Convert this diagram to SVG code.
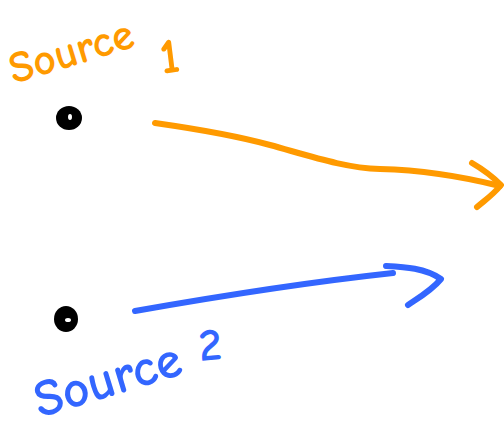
<svg xmlns="http://www.w3.org/2000/svg" width="504" height="429" viewBox="0 0 504 429">
<style>
.stroke{fill:none;stroke-width:6;stroke-linecap:round;stroke-linejoin:round}
.orange{stroke:#FF9A00}
.blue{stroke:#3366FF}
.lbl{font-family:"Comic Neue","Liberation Sans",sans-serif;font-weight:bold}
.dot{fill:#000}
.hole{fill:#fff}
</style>
<rect width="504" height="429" fill="#fff"/>
<g id="source1">
<ellipse class="dot" cx="69" cy="118" rx="13" ry="12"/>
<ellipse class="hole" cx="70" cy="117" rx="2" ry="3"/>
<text class="lbl" x="14" y="84" font-size="44" fill="#FF9A00" transform="rotate(-17 14 84)">Source</text>
<text class="lbl" x="162" y="74" font-size="50" fill="#FF9A00" transform="rotate(-8 162 74)">1</text>
</g>
<g id="source2">
<ellipse class="dot" cx="66" cy="319" rx="12" ry="13"/>
<ellipse class="hole" cx="68" cy="320" rx="3" ry="2"/>
<text class="lbl" x="40" y="418" font-size="52" fill="#3366FF" transform="rotate(-17 40 418)">Source</text>
<text class="lbl" x="200" y="361" font-size="46" fill="#3366FF" transform="rotate(-5 200 361)">2</text>
</g>
<g id="connectors">
<path class="stroke orange" d="M155,123 C190,128 230,134 270,145 C310,156 345,168 380,169 C420,170 460,176 500,186"/>
<path class="stroke orange" d="M472,163 C484,170 494,178 501,185 C493,195 485,200 477,207"/>
<path class="stroke blue" d="M135,311 C220,296 310,282 393,273"/>
<path class="stroke blue" d="M386,266 C405,267 425,268 441,279 C432,290 420,297 408,305"/>
</g>
</svg>
